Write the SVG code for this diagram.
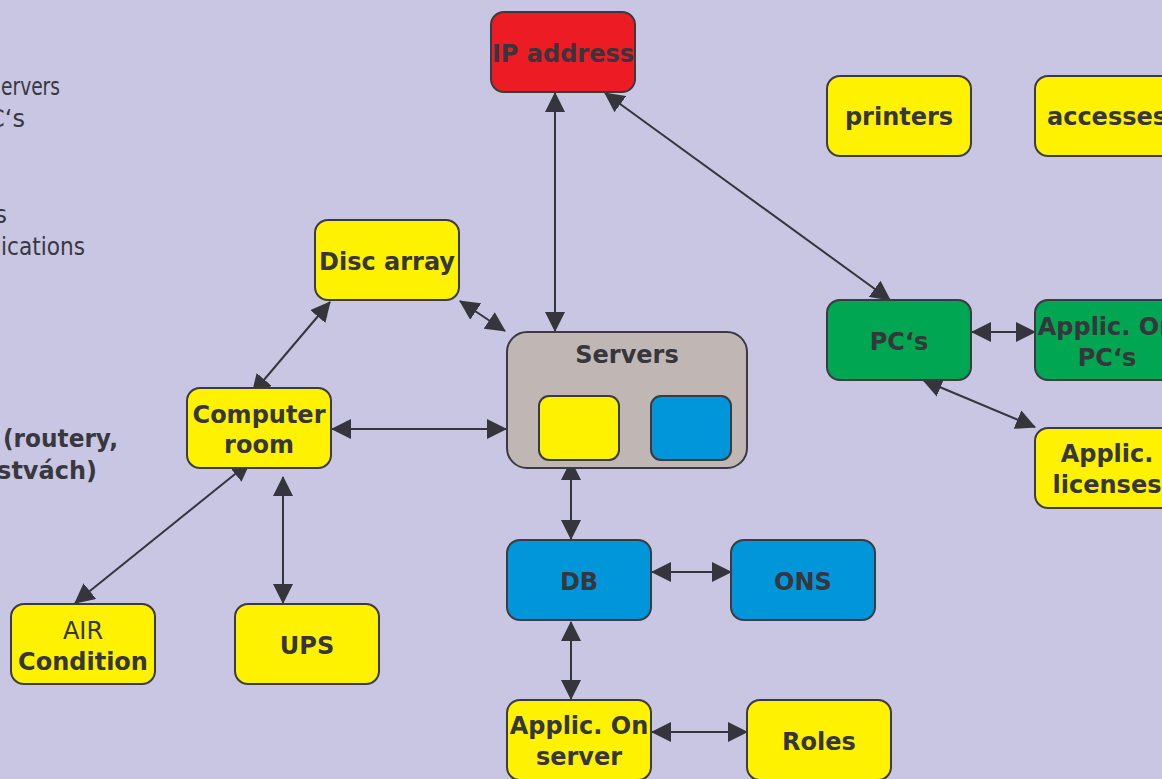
<svg xmlns="http://www.w3.org/2000/svg" width="1162" height="779" viewBox="0 0 1162 779">
  <defs>
    <marker id="arrow" viewBox="0 0 20 20" markerUnits="userSpaceOnUse" markerWidth="20" markerHeight="20" refX="19" refY="10" orient="auto-start-reverse">
      <path d="M0,0 L20,10 L0,20 Z" fill="#35353b"/>
    </marker>
  </defs>
  <style>
    .box { stroke: #3a3a40; stroke-width: 2; }
    .yellow { fill: #fff200; }
    .red { fill: #ed1c24; }
    .green { fill: #00a651; }
    .blue { fill: #0096d9; }
    .grey { fill: #c0b7b5; }
    .lbl { font-family: "DejaVu Sans", Verdana, sans-serif; font-size: 24px; font-weight: bold; fill: #36363c; text-anchor: middle; }
    .reg { font-weight: normal; }
    .side { font-family: "DejaVu Sans", Verdana, sans-serif; font-size: 24px; fill: #38383e; }
    .end { text-anchor: end; }
    .sideb { font-weight: bold; }
    .edge { stroke: #35353b; stroke-width: 2; fill: none; marker-start: url(#arrow); marker-end: url(#arrow); }
  </style>

  <rect x="0" y="0" width="1162" height="779" fill="#c8c6e3"/>

  <!-- side list, running off the left edge -->
  <g id="side-notes">
    <text class="side" x="1" y="95" textLength="59" lengthAdjust="spacingAndGlyphs">ervers</text>
    <text class="side end" x="25" y="127">C‘s</text>
    <text class="side end" x="7" y="223">s</text>
    <text class="side" x="1" y="255" textLength="84" lengthAdjust="spacingAndGlyphs">ications</text>
    <text class="side sideb" x="3" y="447" textLength="115" lengthAdjust="spacingAndGlyphs">(routery,</text>
    <text class="side sideb end" x="97" y="479">stvách)</text>
  </g>

  <!-- connectors -->
  <g id="connectors">
    <line class="edge" x1="555" y1="93" x2="555" y2="331"/>
    <line class="edge" x1="605" y1="93" x2="890" y2="300"/>
    <line class="edge" x1="460" y1="301" x2="505" y2="331"/>
    <line class="edge" x1="330" y1="302" x2="252" y2="394"/>
    <line class="edge" x1="332" y1="429" x2="506" y2="429"/>
    <line class="edge" x1="250" y1="462" x2="75" y2="603"/>
    <line class="edge" x1="283" y1="477" x2="283" y2="603"/>
    <line class="edge" x1="571" y1="461" x2="571" y2="539"/>
    <line class="edge" x1="652" y1="572" x2="731" y2="572"/>
    <line class="edge" x1="571" y1="622" x2="571" y2="699"/>
    <line class="edge" x1="652" y1="732" x2="747" y2="732"/>
    <line class="edge" x1="972" y1="332" x2="1035" y2="332"/>
    <line class="edge" x1="923" y1="380" x2="1035" y2="427"/>
  </g>

  <g id="ip-address">
    <rect class="box red" x="491" y="12" width="144" height="80" rx="13"/>
    <text class="lbl" x="563" y="62">IP address</text>
  </g>

  <g id="printers">
    <rect class="box yellow" x="827" y="76" width="144" height="80" rx="13"/>
    <text class="lbl" x="899" y="125">printers</text>
  </g>

  <g id="accesses">
    <rect class="box yellow" x="1035" y="76" width="144" height="80" rx="13"/>
    <text class="lbl" x="1107" y="125">accesses</text>
  </g>

  <g id="disc-array">
    <rect class="box yellow" x="315" y="220" width="144" height="80" rx="13"/>
    <text class="lbl" x="387" y="270">Disc array</text>
  </g>

  <g id="servers">
    <rect class="box grey" x="507" y="332" width="240" height="136" rx="20"/>
    <text class="lbl" x="627" y="363">Servers</text>
    <rect class="box yellow" x="539" y="396" width="80" height="64" rx="10"/>
    <rect class="box blue" x="651" y="396" width="80" height="64" rx="10"/>
  </g>

  <g id="pcs">
    <rect class="box green" x="827" y="300" width="144" height="80" rx="13"/>
    <text class="lbl" x="899" y="350">PC‘s</text>
  </g>

  <g id="applic-on-pcs">
    <rect class="box green" x="1035" y="300" width="144" height="80" rx="13"/>
    <text class="lbl" x="1107" y="335">Applic. On</text>
    <text class="lbl" x="1107" y="366">PC‘s</text>
  </g>

  <g id="applic-licenses">
    <rect class="box yellow" x="1035" y="428" width="144" height="80" rx="13"/>
    <text class="lbl" x="1107" y="462">Applic.</text>
    <text class="lbl" x="1107" y="493">licenses</text>
  </g>

  <g id="computer-room">
    <rect class="box yellow" x="187" y="388" width="144" height="80" rx="13"/>
    <text class="lbl" x="259" y="423">Computer</text>
    <text class="lbl" x="259" y="453">room</text>
  </g>

  <g id="air-condition">
    <rect class="box yellow" x="11" y="604" width="144" height="80" rx="13"/>
    <text class="lbl reg" x="83" y="639">AIR</text>
    <text class="lbl" x="83" y="670">Condition</text>
  </g>

  <g id="ups">
    <rect class="box yellow" x="235" y="604" width="144" height="80" rx="13"/>
    <text class="lbl" x="307" y="654">UPS</text>
  </g>

  <g id="db">
    <rect class="box blue" x="507" y="540" width="144" height="80" rx="13"/>
    <text class="lbl" x="579" y="590">DB</text>
  </g>

  <g id="ons">
    <rect class="box blue" x="731" y="540" width="144" height="80" rx="13"/>
    <text class="lbl" x="803" y="590">ONS</text>
  </g>

  <g id="applic-on-server">
    <rect class="box yellow" x="507" y="700" width="144" height="80" rx="13"/>
    <text class="lbl" x="579" y="734">Applic. On</text>
    <text class="lbl" x="579" y="765">server</text>
  </g>

  <g id="roles">
    <rect class="box yellow" x="747" y="700" width="144" height="80" rx="13"/>
    <text class="lbl" x="819" y="750">Roles</text>
  </g>
</svg>
